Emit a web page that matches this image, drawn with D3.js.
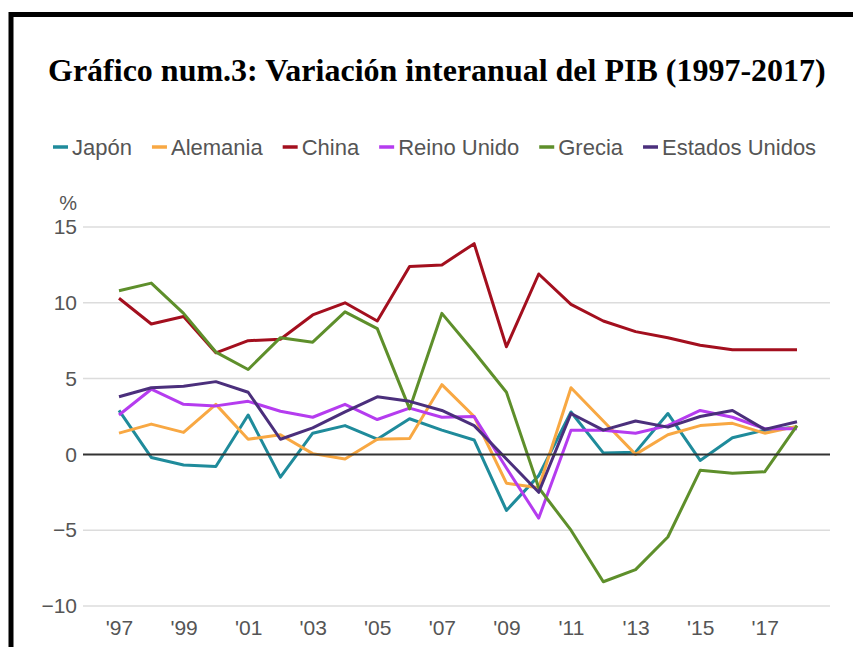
<!DOCTYPE html>
<html lang="es">
<head>
<meta charset="utf-8">
<title>Variación interanual del PIB</title>
<script src="https://d3js.org/d3.v7.min.js"></script>
<style>
  body { margin: 0; background: #fff; }
  svg { display: block; }
</style>
</head>
<body>
<div id="chart"></div>
<script>
// años 1997-2018
const years = d3.range(1997, 2019);

const japon    = [2.9, -0.2, -0.7, -0.8, 2.6, -1.5, 1.4, 1.9, 1.0, 2.35, 1.6, 0.95, -3.7, -1.4, 2.8, 0.1, 0.15, 2.7, -0.4, 1.1, 1.6, 1.8];
const alemania = [1.4, 2.0, 1.45, 3.3, 1.0, 1.3, 0.05, -0.3, 1.0, 1.05, 4.6, 2.5, -1.9, -2.2, 4.4, 2.2, 0.0, 1.3, 1.9, 2.05, 1.4, 1.85];
const china    = [10.3, 8.6, 9.1, 6.7, 7.5, 7.6, 9.2, 10.0, 8.8, 12.4, 12.5, 13.9, 7.1, 11.9, 9.9, 8.8, 8.1, 7.7, 7.2, 6.9, 6.9, 6.9];
const reinoUnido = [2.6, 4.3, 3.3, 3.2, 3.5, 2.85, 2.45, 3.3, 2.3, 3.05, 2.45, 2.5, -0.9, -4.2, 1.6, 1.6, 1.4, 1.9, 2.9, 2.45, 1.7, 1.7];
const grecia   = [10.8, 11.3, 9.3, 6.75, 5.6, 7.7, 7.4, 9.4, 8.3, 3.0, 9.3, 6.75, 4.1, -2.2, -5.0, -8.4, -7.6, -5.45, -1.05, -1.25, -1.15, 1.9];
const eeuu     = [3.8, 4.4, 4.5, 4.8, 4.1, 1.0, 1.75, 2.8, 3.8, 3.5, 2.9, 1.9, -0.3, -2.5, 2.7, 1.6, 2.2, 1.8, 2.5, 2.9, 1.65, 2.15];

const seriesNames = ["Japón", "Alemania", "China", "Reino Unido", "Grecia", "Estados Unidos"];
const seriesValues = [japon, alemania, china, reinoUnido, grecia, eeuu];
const seriesColors = ["#1f8b9b", "#f8a843", "#a30f1e", "#b53cef", "#5e8f2b", "#4b2f7c"];

const yTicks = [-10, -5, 0, 5, 10, 15];
const xTickYears = [1997, 1999, 2001, 2003, 2005, 2007, 2009, 2011, 2013, 2015, 2017];

const W = 853, H = 647;
const svg = d3.select("#chart").append("svg")
    .attr("width", W)
    .attr("height", H);

// marco negro (arriba e izquierda)
svg.append("path")
    .attr("d", "M11,650 V14.5 H860")
    .attr("fill", "none")
    .attr("stroke", "#000")
    .attr("stroke-width", 5);

// titulo
const title = svg.append("text")
    .attr("x", 48)
    .attr("y", 81)
    .attr("font-family", "'Liberation Serif', 'Times New Roman', serif")
    .attr("font-weight", "bold")
    .attr("font-size", 27)
    .attr("fill", "#000")
    .text("Gráfico num.3: Variación interanual del PIB (1997-2017)");
// ajustar el tamaño para ocupar el mismo ancho
const tw = title.node().getComputedTextLength();
title.attr("font-size", 27 * 778 / tw);

// escalas
const x = d3.scaleLinear().domain([1997, 2018]).range([119, 797]);
const y = d3.scaleLinear().domain([-10, 15]).range([606, 227]);
const gridX0 = 83, gridX1 = 830;

const sans = "'Liberation Sans', Arial, Helvetica, sans-serif";
const grey = "#555";

// rejilla
svg.append("g")
  .selectAll("line")
  .data(yTicks.filter(d => d !== 0))
  .join("line")
    .attr("x1", gridX0).attr("x2", gridX1)
    .attr("y1", d => y(d)).attr("y2", d => y(d))
    .attr("stroke", "#dcdcdc")
    .attr("stroke-width", 1.5);

// eje Y
const yAxis = d3.axisLeft(y)
    .tickValues(yTicks)
    .tickSize(0)
    .tickPadding(6)
    .tickFormat(d => d < 0 ? "\u2212" + Math.abs(d) : d);
svg.append("g")
    .attr("transform", `translate(${gridX0},0)`)
    .call(yAxis)
    .call(g => g.select(".domain").remove())
    .call(g => g.selectAll("text")
        .attr("font-family", sans)
        .attr("font-size", 21)
        .attr("fill", grey));

svg.append("text")
    .attr("x", 77)
    .attr("y", 210)
    .attr("text-anchor", "end")
    .attr("font-family", sans)
    .attr("font-size", 20)
    .attr("fill", grey)
    .text("%");

// eje X
const xAxis = d3.axisBottom(x)
    .tickValues(xTickYears)
    .tickSize(0)
    .tickPadding(0)
    .tickFormat(d => "'" + String(d).slice(2));
svg.append("g")
    .attr("transform", "translate(0,619)")
    .call(xAxis)
    .call(g => g.select(".domain").remove())
    .call(g => g.selectAll("text")
        .attr("dy", "0.75em")
        .attr("font-family", sans)
        .attr("font-size", 21)
        .attr("fill", grey));

// líneas
const line = d3.line()
    .x((d, i) => x(years[i]))
    .y(d => y(d));

svg.append("g")
  .selectAll("path")
  .data(seriesValues)
  .join("path")
    .attr("d", line)
    .attr("fill", "none")
    .attr("stroke", (d, i) => seriesColors[i])
    .attr("stroke-width", 3)
    .attr("stroke-linejoin", "round");

// línea del cero
svg.append("line")
    .attr("x1", gridX0).attr("x2", gridX1)
    .attr("y1", y(0)).attr("y2", y(0))
    .attr("stroke", "#333")
    .attr("stroke-width", 2);

// leyenda
const legend = svg.append("g").attr("transform", "translate(53,0)");
let lx = 0;
seriesNames.forEach((name, i) => {
  const item = legend.append("g").attr("transform", `translate(${lx},0)`);
  item.append("line")
      .attr("x1", 0).attr("x2", 15)
      .attr("y1", 147).attr("y2", 147)
      .attr("stroke", seriesColors[i])
      .attr("stroke-width", 3.5);
  const t = item.append("text")
      .attr("x", 19)
      .attr("y", 155)
      .attr("font-family", sans)
      .attr("font-size", 22)
      .attr("fill", grey)
      .text(name);
  lx += 19 + t.node().getComputedTextLength() + 20;
});
</script>
</body>
</html>
